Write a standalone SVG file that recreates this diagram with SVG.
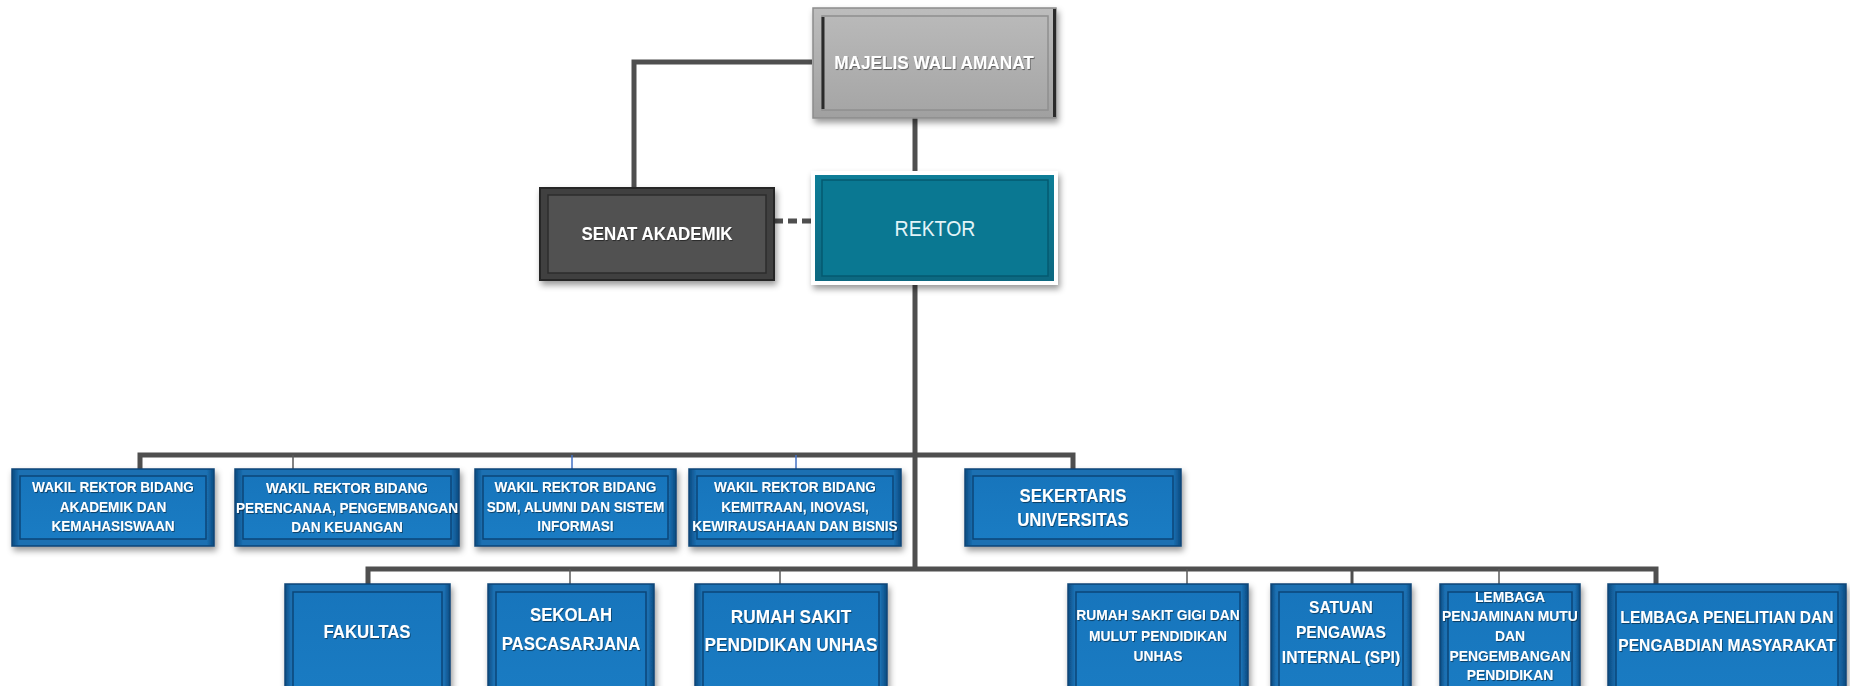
<svg xmlns="http://www.w3.org/2000/svg" width="1850" height="686" viewBox="0 0 1850 686">
<style>
.t{font-family:"Liberation Sans",Arial,sans-serif;font-weight:bold;fill:#ffffff;text-anchor:middle;filter:url(#ts);transform-box:fill-box;transform-origin:center;transform:scaleY(1.08)}
.w{font-size:13.6px}
.m{font-size:16.8px}
.h{font-size:17.2px}
.s{font-size:13.8px}
.l{font-size:13.9px}
.k{font-size:15.6px}
.rk{font-family:"Liberation Sans",Arial,sans-serif;font-size:19.5px;fill:#e2f4f8;text-anchor:middle;transform-box:fill-box;transform-origin:center;transform:scaleY(1.15)}
.bo{fill:url(#gBlue);stroke:#0c4677;stroke-width:1.5;filter:url(#sh)}
.bi{fill:url(#gBlueIn);stroke:#0b4578;stroke-width:1.5}
.ln{fill:none;stroke:#4f4f4f;stroke-width:5}
.th{fill:none;stroke:#5a5a5a;stroke-width:1.5}
.tb{fill:none;stroke:#4472c4;stroke-width:1.5}
</style>
<defs>
<linearGradient id="gBlue" x1="0" y1="0" x2="1" y2="0">
<stop offset="0" stop-color="#0b4a80"/>
<stop offset="0.035" stop-color="#1b70b2"/>
<stop offset="0.965" stop-color="#1b70b2"/>
<stop offset="1" stop-color="#0b4a80"/>
</linearGradient>
<linearGradient id="gBlueIn" x1="0" y1="0" x2="0" y2="1">
<stop offset="0" stop-color="#1775bc"/>
<stop offset="1" stop-color="#1a7cc3"/>
</linearGradient>
<linearGradient id="gGray" x1="0" y1="0" x2="0" y2="1">
<stop offset="0" stop-color="#bdbdbd"/>
<stop offset="1" stop-color="#a0a0a0"/>
</linearGradient>
<linearGradient id="gGrayIn" x1="0" y1="0" x2="0" y2="1">
<stop offset="0" stop-color="#b9b9b9"/>
<stop offset="1" stop-color="#a6a6a6"/>
</linearGradient>
<linearGradient id="gTeal" x1="0" y1="0" x2="0" y2="1">
<stop offset="0" stop-color="#0a7d97"/>
<stop offset="1" stop-color="#076880"/>
</linearGradient>
<filter id="sh" x="-10%" y="-10%" width="125%" height="135%">
<feDropShadow dx="2" dy="4" stdDeviation="3" flood-color="#000" flood-opacity="0.4"/>
</filter>
<filter id="ts" x="-5%" y="-20%" width="110%" height="150%">
<feDropShadow dx="0.8" dy="1" stdDeviation="0.6" flood-color="#000" flood-opacity="0.45"/>
</filter>
</defs>

<g id="connectors">
<path class="ln" d="M812 62 H634 V188"/>
<path class="ln" d="M915 118 V173"/>
<path class="ln" d="M774 221 H814" stroke-dasharray="9 5"/>
<path class="ln" d="M915 283 V569"/>
<path class="ln" d="M140 469 V455 H1073 V469"/>
<path class="th" d="M293 455 V469"/>
<path class="tb" d="M572 455 V469"/>
<path class="tb" d="M796 455 V469"/>
<path class="ln" d="M368 584 V569 H1656 V584"/>
<path class="th" d="M570 569 V584"/>
<path class="th" d="M780 569 V584"/>
<path class="th" d="M1187 569 V584"/>
<path class="ln" d="M1352 569 V584" style="stroke-width:3"/>
<path class="th" d="M1499 569 V584"/>
</g>

<g id="mwa">
<rect x="813" y="8" width="243" height="110" fill="url(#gGray)" stroke="#8c8c8c" stroke-width="1.5" filter="url(#sh)"/>
<path d="M1054.5 9 V117" stroke="#2a2a2a" stroke-width="3"/>
<rect x="822" y="16" width="226" height="94" fill="url(#gGrayIn)" stroke="#8f8f8f" stroke-width="1.5"/>
<path d="M823 17 V109" stroke="#2a2a2a" stroke-width="3"/>
<text class="t" x="934" y="69" style="font-size:17.2px">MAJELIS WALI AMANAT</text>
</g>

<g id="senat">
<rect x="540" y="188" width="234" height="92" fill="#3f3f3f" stroke="#262626" stroke-width="2" filter="url(#sh)"/>
<rect x="548" y="195" width="218" height="78" fill="#515151" stroke="#2c2c2c" stroke-width="1.5"/>
<text class="t" x="657" y="240" style="font-size:16.9px">SENAT AKADEMIK</text>
</g>

<g id="rektor">
<rect x="813" y="173" width="243" height="110" fill="url(#gTeal)" stroke="#ffffff" stroke-width="4" filter="url(#sh)"/>
<rect x="822" y="180" width="226" height="96" fill="#0a7892" stroke="#055a70" stroke-width="1.5"/>
<text class="rk" x="935" y="235">REKTOR</text>
</g>

<g id="wr1">
<rect class="bo" x="12" y="469" width="202" height="77"/>
<rect class="bi" x="20" y="476" width="186" height="63"/>
<text class="t w" x="113" y="492">WAKIL REKTOR BIDANG</text>
<text class="t w" x="113" y="511.5">AKADEMIK DAN</text>
<text class="t w" x="113" y="531">KEMAHASISWAAN</text>
</g>

<g id="wr2">
<rect class="bo" x="235" y="469" width="224" height="77"/>
<rect class="bi" x="243" y="476" width="208" height="63"/>
<text class="t w" x="347" y="493">WAKIL REKTOR BIDANG</text>
<text class="t w" x="347" y="512.5">PERENCANAA, PENGEMBANGAN</text>
<text class="t w" x="347" y="532">DAN KEUANGAN</text>
</g>

<g id="wr3">
<rect class="bo" x="475" y="469" width="201" height="77"/>
<rect class="bi" x="483" y="476" width="185" height="63"/>
<text class="t w" x="575.5" y="492">WAKIL REKTOR BIDANG</text>
<text class="t w" x="575.5" y="511.5">SDM, ALUMNI DAN SISTEM</text>
<text class="t w" x="575.5" y="531">INFORMASI</text>
</g>

<g id="wr4">
<rect class="bo" x="689" y="469" width="212" height="77"/>
<rect class="bi" x="697" y="476" width="196" height="63"/>
<text class="t w" x="795" y="492">WAKIL REKTOR BIDANG</text>
<text class="t w" x="795" y="511.5">KEMITRAAN, INOVASI,</text>
<text class="t w" x="795" y="531">KEWIRAUSAHAAN DAN BISNIS</text>
</g>

<g id="sekertaris">
<rect class="bo" x="965" y="469" width="216" height="77"/>
<rect class="bi" x="973" y="476" width="200" height="63"/>
<text class="t m" x="1073" y="502">SEKERTARIS</text>
<text class="t m" x="1073" y="526">UNIVERSITAS</text>
</g>

<g id="fakultas">
<rect class="bo" x="285" y="584" width="165" height="115"/>
<rect class="bi" x="293" y="592" width="149" height="110"/>
<text class="t m" x="367" y="638">FAKULTAS</text>
</g>

<g id="sekolah">
<rect class="bo" x="488" y="584" width="166" height="115"/>
<rect class="bi" x="496" y="592" width="150" height="110"/>
<text class="t m" x="571" y="621">SEKOLAH</text>
<text class="t m" x="571" y="650">PASCASARJANA</text>
</g>

<g id="rsp">
<rect class="bo" x="695" y="584" width="192" height="115"/>
<rect class="bi" x="703" y="592" width="176" height="110"/>
<text class="t h" x="791" y="623">RUMAH SAKIT</text>
<text class="t h" x="791" y="651">PENDIDIKAN UNHAS</text>
</g>

<g id="rsgm">
<rect class="bo" x="1068" y="584" width="180" height="115"/>
<rect class="bi" x="1076" y="592" width="164" height="110"/>
<text class="t s" x="1158" y="620">RUMAH SAKIT GIGI DAN</text>
<text class="t s" x="1158" y="641">MULUT PENDIDIKAN</text>
<text class="t s" x="1158" y="661">UNHAS</text>
</g>

<g id="spi">
<rect class="bo" x="1271" y="584" width="140" height="115"/>
<rect class="bi" x="1279" y="592" width="124" height="110"/>
<text class="t k" x="1341" y="613">SATUAN</text>
<text class="t k" x="1341" y="638">PENGAWAS</text>
<text class="t k" x="1341" y="663">INTERNAL (SPI)</text>
</g>

<g id="lpm">
<rect class="bo" x="1440" y="584" width="140" height="115"/>
<rect class="bi" x="1448" y="592" width="124" height="110"/>
<text class="t l" x="1510" y="602">LEMBAGA</text>
<text class="t l" x="1510" y="621">PENJAMINAN MUTU</text>
<text class="t l" x="1510" y="641">DAN</text>
<text class="t l" x="1510" y="661">PENGEMBANGAN</text>
<text class="t l" x="1510" y="680">PENDIDIKAN</text>
</g>

<g id="lppm">
<rect class="bo" x="1608" y="584" width="238" height="115"/>
<rect class="bi" x="1616" y="592" width="222" height="110"/>
<text class="t k" x="1727" y="623">LEMBAGA PENELITIAN DAN</text>
<text class="t k" x="1727" y="651">PENGABDIAN MASYARAKAT</text>
</g>
</svg>
